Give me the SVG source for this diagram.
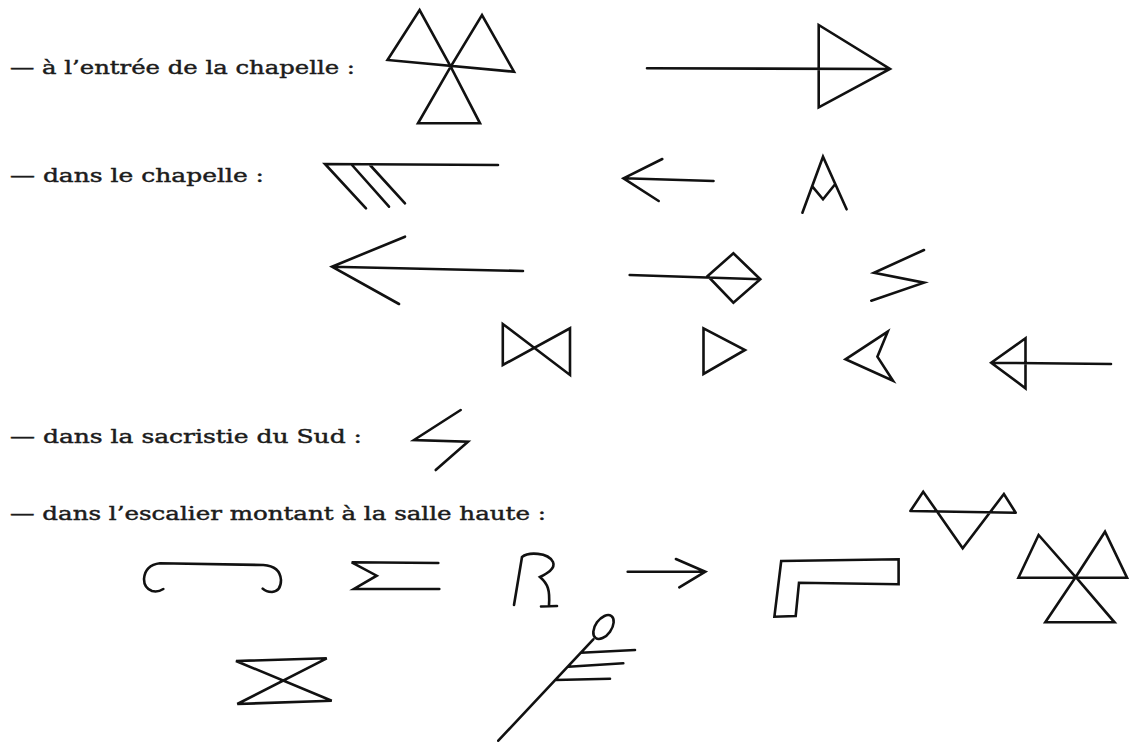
<svg xmlns="http://www.w3.org/2000/svg" width="1129" height="742" viewBox="0 0 1129 742">
<style>
.t{font-family:"DejaVu Serif","Liberation Serif",serif;font-size:19px;fill:#1c1c1c;stroke:#1c1c1c;stroke-width:0.45}
.m{fill:none;stroke:#111;stroke-width:2.6;stroke-linejoin:miter;stroke-linecap:round}
</style>
<rect width="1129" height="742" fill="#fff"/>
<g id="labels">
<text class="t" x="10" y="74" textLength="345" lengthAdjust="spacingAndGlyphs">— à l’entrée de la chapelle :</text>
<text class="t" x="10" y="182" textLength="254" lengthAdjust="spacingAndGlyphs">— dans le chapelle :</text>
<text class="t" x="10" y="443" textLength="352" lengthAdjust="spacingAndGlyphs">— dans la sacristie du Sud :</text>
<text class="t" x="10" y="520" textLength="536" lengthAdjust="spacingAndGlyphs">— dans l’escalier montant à la salle haute :</text>
</g>
<g id="marks" class="m">
<g id="trefoil-1"><path d="M387.5,60 L419.6,10 L450.7,66.7 L482,15 L514,71.7 Z M450.7,66.7 L418,123.3 L480,123.3 Z"/></g>
<g id="arrow-triangle-right"><path d="M647,68.3 L890,69 M818.7,25 L818.7,107.3 L890,69 Z"/></g>
<g id="rake"><path d="M498,165 L325,164 L366,208.3 M352,165 L389,206.7 M370,165 L405,203.3"/></g>
<g id="arrow-left-small"><path d="M713.5,181 L623.5,178.3 M662.3,159 L623.5,178.3 L658.7,201"/></g>
<g id="a-mark"><path d="M802.4,212.7 L823,156.7 L846.6,209.3 M812.5,186.7 L823,199.3 L834.5,185"/></g>
<g id="arrow-left-big"><path d="M523,271 L332,266.7 M405,236.7 L332,266.7 L399,304"/></g>
<g id="diamond"><path d="M629.7,275 L760.3,279.3 M707.7,276 L733.4,253.3 L760.3,279.3 L733.4,302.7 Z"/></g>
<g id="zigzag"><path d="M924,250 L874,272.7 L924,282.7 L871.3,300.7"/></g>
<g id="bowtie"><path d="M502.8,324 L502.8,365 L570,328.3 L570,375 Z"/></g>
<g id="triangle-right"><path d="M703.5,328.3 L703.5,374 L745,350 Z"/></g>
<g id="chevron"><path d="M887.7,331.7 L845.5,359.3 L893,380.7 L877.4,356.7 Z"/></g>
<g id="arrow-triangle-left"><path d="M1111,364 L991.2,362.7 M1025.5,338.3 L991.2,362.7 L1025.5,388.3 Z"/></g>
<g id="sacristie-mark"><path d="M460.7,410 L414,440 L468,441.7 L435.7,470"/></g>
<g id="hook"><path d="M163.3,589 Q158,592.5 152,591 Q144,588 144,579 Q145,565 160,563.3 L263.3,565 Q280,566 281,580 Q281,591 272,592 Q266,592 262.7,588.7"/></g>
<g id="sigma"><path d="M438.3,563 L351.7,562.3 L376.7,575.7 L354,589 L439.3,589"/></g>
<g id="r-mark"><path d="M514,605 L522,557 C528,552 548,552 553,562 C556,569 546,574 540,577 C548,584 550,590 549,605 M541,606.5 L557,606"/></g>
<g id="arrow-right-small"><path d="M627.7,571.7 L705.3,571.7 M675.9,559 L705.3,571.7 L679.3,587.3"/></g>
<g id="l-shape"><path d="M781.2,561 L898.6,559.3 L898.6,584.3 L799,582.7 L795.7,616 L774.4,616.7 Z"/></g>
<g id="v-triangles"><path d="M910.4,511 L1015.7,512.7 M910.4,511 L923.2,491.7 L962.7,548.3 L1003.9,494 L1015.7,512.7"/></g>
<g id="trefoil-2"><path d="M1018.4,577.7 L1038.6,535 L1075.7,577 L1105,531.7 L1127,577.7 Z M1075.7,577 L1045.3,622.3 L1114.5,622.3 Z"/></g>
<g id="hourglass"><path d="M236,661 L326.7,658.3 L237.3,704 L331.7,700.7 Z"/></g>
<g id="feather"><path d="M498.3,740.7 L593.3,639.3 M580.7,652.7 L635,650 M568.3,666.7 L623.3,663.3 M555.2,680 L610,678.7"/><ellipse cx="603.5" cy="627" rx="8" ry="13.5" transform="rotate(35.5 603.5 627)"/></g>
</g>
</svg>
